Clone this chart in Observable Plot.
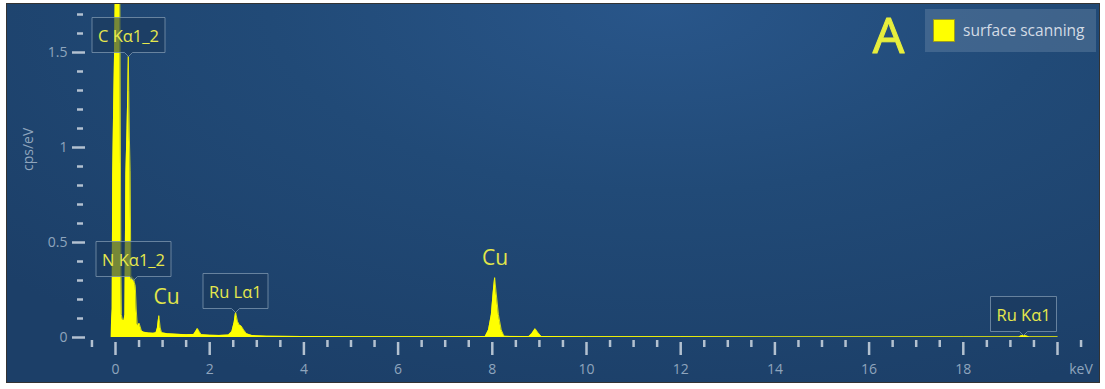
<!DOCTYPE html>
<html><head><meta charset="utf-8">
<script src="https://cdn.jsdelivr.net/npm/d3@7"></script>
<script src="https://cdn.jsdelivr.net/npm/@observablehq/plot@0.6"></script>
<style>
html,body{margin:0;padding:0;background:#fff;}
#frame{position:absolute;left:6px;top:3px;width:1092px;height:378px;border:1px solid #333;overflow:hidden;
  background: radial-gradient(ellipse 80% 110% at 60% 0%, #29568a 0%, #214a77 45%, #1c3f68 100%);
  font-family:"Open Sans",sans-serif;}
#chart svg{display:block;}
g[aria-label="tip"] text, g[aria-label="tip"] tspan{fill:#e6e84c !important;stroke:none !important;}
#legend{position:absolute;left:918px;top:5px;width:171px;height:43px;background:rgba(100,130,165,0.45);}
#legend .sw{position:absolute;left:8px;top:10px;width:22px;height:23px;background:#ffff00;box-shadow:0 0 0 1px #9a9a20 inset;}
#legend .lb{position:absolute;left:38px;top:11px;font-size:15.5px;color:#d3dbe5;white-space:nowrap;line-height:20px;}
</style></head>
<body>
<div id="frame"><div id="chart"></div>
<div id="legend"><div class="sw"></div><div class="lb">surface scanning</div></div>
</div>
<script>
// Spectrum (energy in keV, intensity in cps/eV)
const spectrumKeV = [-0.09,-0.085,-0.07,-0.06,-0.04,-0.02,0.0,0.02,0.045,0.07,0.09,0.105,0.115,0.125,0.15,0.18,0.2,0.21,0.22,0.245,0.262,0.272,0.282,0.295,0.31,0.32,0.325,0.335,0.345,0.36,0.38,0.40,0.42,0.44,0.46,0.48,0.50,0.52,0.55,0.6,0.7,0.8,0.86,0.89,0.92,0.95,0.98,1.1,1.3,1.5,1.66,1.70,1.74,1.78,1.82,2.0,2.2,2.4,2.47,2.52,2.55,2.59,2.63,2.67,2.72,2.78,2.9,3.2,4.0,5.0,6.0,7.0,7.85,7.92,7.98,8.02,8.05,8.08,8.13,8.19,8.25,8.78,8.84,8.91,8.97,9.04,10,12,14,16,18,19.18,19.22,19.28,19.34,19.4,20.0];
const spectrumCps = [0,0.08,0.15,0.85,1.2,1.5,1.9,3.0,3.6,3.0,1.9,0.95,0.35,0.12,0.09,0.09,0.12,0.5,0.86,1.1,1.3,1.48,1.3,1.05,0.88,0.55,0.32,0.30,0.32,0.30,0.31,0.29,0.27,0.15,0.07,0.06,0.075,0.06,0.035,0.028,0.024,0.022,0.025,0.05,0.115,0.05,0.025,0.02,0.017,0.015,0.016,0.03,0.047,0.03,0.015,0.012,0.011,0.013,0.03,0.08,0.133,0.085,0.065,0.06,0.04,0.02,0.01,0.007,0.005,0.004,0.004,0.004,0.005,0.04,0.12,0.24,0.315,0.24,0.12,0.04,0.006,0.005,0.02,0.046,0.025,0.005,0.004,0.004,0.003,0.003,0.003,0.003,0.008,0.01,0.008,0.003,0.003];

// Peak identification labels
const peakLabels = ["C Kα1_2","N Kα1_2","Ru Lα1","Ru Kα1"];
const peakKeV = [0.272, 0.39, 2.55, 19.28];
const peakCps = [1.48, 0.30, 0.13, 0.01];

// Element annotations
const elemLabels = ["Cu","Cu"];
const elemKeV = [1.085, 8.06];
const elemCps = [0.21, 0.415];
const panelLetter = "A";

// Axis ticks
const yMajor = [0, 0.5, 1, 1.5];
const yMinor = [0.1,0.2,0.3,0.4,0.6,0.7,0.8,0.9,1.1,1.2,1.3,1.4,1.6,1.7];
const xMajor = [0,2,4,6,8,10,12,14,16,18,20];
const xLabels = [0,2,4,6,8,10,12,14,16,18];
const xMinor = [-0.5,0.5,1,1.5,2.5,3,3.5,4.5,5,5.5,6.5,7,7.5,8.5,9,9.5,10.5,11,11.5,12.5,13,13.5,14.5,15,15.5,16.5,17,17.5,18.5,19,19.5,20.5];
const xUnit = "keV";
const yUnit = "cps/eV";

const spec = spectrumKeV.map((k,i)=>({keV:k, cps:spectrumCps[i]}));
const peaks = peakLabels.map((l,i)=>({label:l, keV:peakKeV[i], cps:peakCps[i]}));
const elems = elemLabels.map((l,i)=>({label:l, keV:elemKeV[i], cps:elemCps[i]}));

const tickCol = "#b3c1d0", labCol = "#8fa5bd";
const W = 1092, H = 378;
const mL = 84.45, mR = 18.45, mB = 45;

const plot = Plot.plot({
  width: W, height: H,
  marginLeft: mL, marginRight: mR, marginTop: 0, marginBottom: mB,
  x: {domain: [-0.5, 20.5]},
  y: {domain: [0, 333/190]},
  style: {background: "transparent", fontFamily: "Open Sans, sans-serif", fontSize: "13px", overflow: "hidden"},
  marks: [
    Plot.areaY(spec, {x: "keV", y: "cps", fill: "#ffff00", clip: true}),
    Plot.lineY(spec, {x: "keV", y: "cps", stroke: "#ffff00", strokeWidth: 0.8, clip: true}),
    Plot.axisY({ticks: yMajor, tickSize: 13, tickPadding: 5, dx: -6.45, stroke: tickCol, strokeWidth: 2.5, fill: labCol, fontSize: 14, tickFormat: d => String(d), label: null}),
    Plot.axisY({ticks: yMinor, tickSize: 6, dx: -8.45, stroke: tickCol, strokeWidth: 2.5, text: null, label: null}),
    Plot.axisX({ticks: xMajor, tickSize: 13, dy: 5, stroke: tickCol, strokeWidth: 2.5, text: null, label: null}),
    Plot.axisX({ticks: xLabels, tickSize: 0, tickPadding: 22, dy: 5, fill: labCol, fontSize: 14, tickFormat: d => String(d), label: null}),
    Plot.axisX({ticks: xMinor, tickSize: 7, dy: 3, stroke: tickCol, strokeWidth: 2.5, text: null, label: null}),
    Plot.axisX({ticks: [20.5], tickSize: 0, tickPadding: 22, dy: 5, fill: labCol, fontSize: 14, tickFormat: () => xUnit, label: null}),
    Plot.text([yUnit], {frameAnchor: "left", rotate: -90, text: d => d, dx: 21 - mL, fill: labCol, fontSize: 14}),
    Plot.text([panelLetter], {frameAnchor: "top-left", lineAnchor: "top", textAnchor: "middle", text: d => d, dx: 881 - mL, dy: 13, fill: "#e8ee3c", stroke: "#e8ee3c", strokeWidth: 1, fontSize: 50}),
    Plot.text(elems, {x: "keV", y: "cps", text: "label", fill: "#e2e64a", fontSize: 21}),
    Plot.tip(peaks, {x: "keV", y: "cps", title: "label", anchor: "bottom", fontSize: 16.5, fontFamily: "Open Sans, sans-serif",
      textPadding: 6, pointerSize: 8, pathFilter: "none", fill: "#1a385c", fillOpacity: 0.6, stroke: "#7a93ad", strokeOpacity: 0.8})
  ]
});
document.getElementById("chart").appendChild(plot);
</script>
</body></html>
